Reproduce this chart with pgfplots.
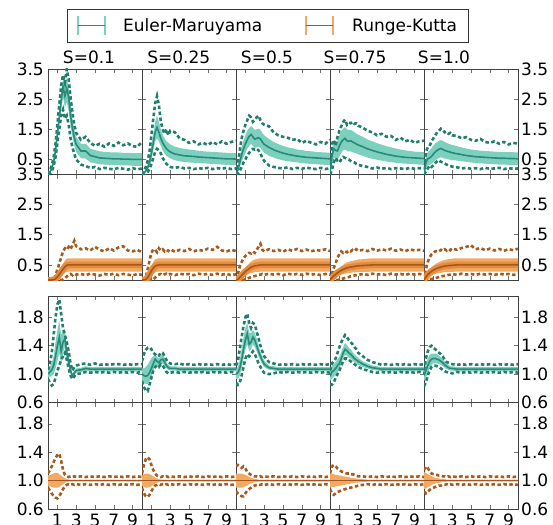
\documentclass[border=0pt]{standalone}
\usepackage{fontspec}
\setmainfont{DejaVu Sans}
\usepackage{pgfplots}
\usepackage{pgfplotstable}
\pgfplotsset{compat=1.18}
\usepgfplotslibrary{fillbetween}

\definecolor{emfill}{RGB}{125,208,190}
\definecolor{emline}{RGB}{40,138,120}
\definecolor{emdot}{RGB}{34,126,108}
\definecolor{rkfill}{RGB}{240,170,100}
\definecolor{rkmid}{RGB}{228,140,62}
\definecolor{rkline}{RGB}{168,86,28}
\definecolor{rkdot}{RGB}{166,90,30}
\newcommand{\lblfont}{\fontsize{17}{20}\selectfont}

% columns: x, mean, band low/high, min, max
\pgfplotstableread{
x m lo hi mn mx
0 0.00 0.00 0.00 0.00 0.00
0.2 0.08 0.06 0.10 0.04 0.14
0.4 0.20 0.16 0.25 0.10 0.30
0.6 0.42 0.35 0.50 0.28 0.58
0.8 0.80 0.68 0.92 0.58 1.02
1.0 1.35 1.18 1.52 1.05 1.65
1.2 1.90 1.68 2.12 1.50 2.30
1.4 2.45 2.15 2.72 1.95 2.95
1.6 2.92 2.55 3.18 2.15 3.30
1.8 2.60 2.22 2.98 1.85 3.05
2.0 2.85 2.40 3.20 1.95 3.50
2.2 2.55 2.10 2.90 1.65 3.15
2.4 1.95 1.60 2.30 1.20 2.55
2.6 1.55 1.25 1.85 0.90 2.05
2.8 1.22 0.95 1.48 0.68 1.65
3.0 1.00 0.75 1.25 0.50 1.38
3.5 0.78 0.54 1.02 0.33 1.15
4.0 0.78 0.53 1.02 0.28 1.25
4.5 0.63 0.41 0.86 0.22 1.05
5.0 0.59 0.37 0.81 0.25 0.95
5.5 0.55 0.34 0.77 0.18 1.02
6.0 0.54 0.33 0.75 0.22 0.92
6.5 0.53 0.32 0.74 0.19 1.03
7.0 0.52 0.31 0.73 0.17 0.95
7.5 0.52 0.31 0.73 0.22 1.06
8.0 0.51 0.30 0.72 0.19 0.97
8.5 0.51 0.30 0.72 0.16 1.03
9.0 0.50 0.29 0.71 0.21 0.94
9.5 0.50 0.29 0.71 0.17 0.92
10 0.50 0.29 0.71 0.20 1.08
}\emlA
\pgfplotstableread{
x m lo hi mn mx
0 0.00 0.00 0.00 0.00 0.00
0.2 0.05 0.03 0.08 0.00 0.10
0.4 0.12 0.08 0.18 0.03 0.25
0.6 0.22 0.15 0.32 0.08 0.45
0.8 0.40 0.28 0.55 0.18 0.75
1.0 0.70 0.50 0.95 0.35 1.30
1.2 1.05 0.80 1.35 0.55 1.85
1.4 1.40 1.10 1.75 0.75 2.35
1.6 1.56 1.20 1.95 0.85 2.60
1.8 1.40 1.10 1.75 0.80 2.30
2.0 1.20 0.95 1.50 0.70 1.75
2.2 1.05 0.80 1.32 0.55 1.50
2.4 0.95 0.70 1.20 0.45 1.35
2.6 0.85 0.62 1.10 0.35 1.50
2.8 0.80 0.58 1.05 0.30 1.30
3.0 0.75 0.54 1.00 0.25 1.45
3.5 0.68 0.47 0.92 0.22 1.40
4.0 0.65 0.44 0.88 0.25 1.20
4.5 0.62 0.41 0.85 0.20 1.15
5.0 0.61 0.40 0.83 0.22 1.05
5.5 0.60 0.39 0.81 0.18 1.10
6.0 0.58 0.38 0.79 0.21 1.00
6.5 0.57 0.37 0.77 0.19 1.05
7.0 0.56 0.36 0.76 0.22 0.98
7.5 0.55 0.35 0.75 0.18 1.08
8.0 0.54 0.34 0.74 0.21 1.00
8.5 0.53 0.33 0.73 0.19 1.10
9.0 0.52 0.32 0.72 0.22 1.02
9.5 0.52 0.32 0.72 0.18 1.08
10 0.51 0.31 0.71 0.20 1.12
}\emlB
\pgfplotstableread{
x m lo hi mn mx
0 0.00 0.00 0.00 0.00 0.00
0.2 0.15 0.08 0.25 0.03 0.35
0.4 0.40 0.25 0.58 0.12 0.80
0.6 0.65 0.42 0.90 0.25 1.20
0.8 0.85 0.58 1.12 0.40 1.45
1.0 1.02 0.72 1.30 0.50 1.65
1.2 1.15 0.85 1.45 0.62 1.80
1.4 1.27 0.95 1.55 0.72 1.95
1.6 1.33 1.02 1.60 0.80 1.90
1.8 1.25 0.95 1.55 0.85 1.75
2.0 1.17 0.88 1.48 0.82 1.80
2.2 1.20 0.90 1.50 0.85 1.90
2.4 1.22 0.92 1.52 0.80 1.95
2.6 1.18 0.88 1.48 0.70 1.80
2.8 1.08 0.80 1.38 0.55 1.70
3.0 1.00 0.72 1.30 0.45 1.65
3.5 0.90 0.62 1.18 0.30 1.60
4.0 0.82 0.56 1.08 0.25 1.40
4.5 0.76 0.51 1.01 0.22 1.30
5.0 0.71 0.47 0.95 0.20 1.25
5.5 0.67 0.44 0.90 0.24 1.22
6.0 0.64 0.42 0.87 0.18 1.15
6.5 0.61 0.40 0.83 0.22 1.18
7.0 0.59 0.38 0.81 0.19 1.05
7.5 0.57 0.36 0.78 0.23 1.12
8.0 0.56 0.35 0.77 0.20 1.05
8.5 0.55 0.34 0.75 0.18 1.00
9.0 0.54 0.33 0.74 0.22 1.08
9.5 0.53 0.32 0.73 0.18 1.02
10 0.52 0.31 0.72 0.21 1.15
}\emlC
\pgfplotstableread{
x m lo hi mn mx
0 0.00 0.00 0.00 0.00 0.00
0.2 0.60 0.35 0.85 0.15 1.00
0.4 0.85 0.55 1.10 0.40 1.15
0.6 0.80 0.52 1.10 0.55 0.95
0.8 0.78 0.50 1.12 0.45 1.25
1.0 0.95 0.60 1.30 0.40 1.45
1.2 1.08 0.72 1.45 0.50 1.60
1.4 1.15 0.80 1.52 0.58 1.75
1.6 1.20 0.83 1.57 0.55 1.82
1.8 1.12 0.78 1.50 0.52 1.65
2.0 1.10 0.76 1.48 0.50 1.72
2.2 1.12 0.77 1.48 0.45 1.70
2.4 1.08 0.74 1.45 0.42 1.75
2.6 1.05 0.72 1.40 0.40 1.68
2.8 1.01 0.70 1.36 0.35 1.70
3.0 0.98 0.67 1.32 0.32 1.62
3.5 0.92 0.62 1.25 0.28 1.55
4.0 0.85 0.56 1.16 0.25 1.45
4.5 0.80 0.52 1.10 0.20 1.40
5.0 0.75 0.49 1.04 0.23 1.30
5.5 0.71 0.46 0.99 0.19 1.35
6.0 0.67 0.43 0.94 0.22 1.25
6.5 0.64 0.41 0.90 0.18 1.28
7.0 0.61 0.39 0.86 0.21 1.15
7.5 0.59 0.37 0.83 0.20 1.22
8.0 0.57 0.36 0.80 0.18 1.10
8.5 0.56 0.35 0.78 0.22 1.15
9.0 0.55 0.34 0.76 0.19 1.05
9.5 0.54 0.33 0.75 0.21 1.10
10 0.53 0.32 0.74 0.20 1.12
}\emlD
\pgfplotstableread{
x m lo hi mn mx
0 0.00 0.00 0.00 0.00 0.00
0.2 0.40 0.20 0.60 0.10 0.75
0.4 0.52 0.30 0.75 0.20 0.90
0.6 0.55 0.33 0.80 0.30 0.95
0.8 0.60 0.36 0.88 0.25 1.10
1.0 0.68 0.42 0.96 0.30 1.20
1.2 0.75 0.48 1.03 0.38 1.30
1.4 0.80 0.52 1.08 0.45 1.40
1.6 0.84 0.55 1.12 0.47 1.45
1.8 0.86 0.57 1.14 0.42 1.52
2.0 0.83 0.55 1.12 0.40 1.48
2.2 0.80 0.53 1.08 0.36 1.40
2.4 0.78 0.52 1.05 0.33 1.42
2.6 0.76 0.50 1.02 0.30 1.35
2.8 0.74 0.49 1.00 0.28 1.38
3.0 0.72 0.48 0.98 0.26 1.30
3.5 0.69 0.46 0.94 0.24 1.28
4.0 0.66 0.44 0.90 0.20 1.20
4.5 0.63 0.42 0.86 0.22 1.24
5.0 0.61 0.40 0.83 0.19 1.15
5.5 0.59 0.38 0.81 0.21 1.12
6.0 0.58 0.37 0.79 0.18 1.18
6.5 0.57 0.36 0.78 0.22 1.08
7.0 0.56 0.35 0.77 0.19 1.05
7.5 0.55 0.34 0.76 0.20 1.10
8.0 0.54 0.33 0.75 0.22 1.02
8.5 0.54 0.33 0.75 0.18 1.08
9.0 0.53 0.32 0.74 0.21 1.00
9.5 0.53 0.32 0.74 0.19 1.05
10 0.52 0.31 0.73 0.20 1.02
}\emlE
\pgfplotstableread{
x m lo hi mn mx
0 0.00 0.00 0.00 0.00 0.00
0.2 0.00 0.00 0.00 0.00 0.00
0.4 0.00 0.00 0.01 0.00 0.01
0.6 0.01 0.00 0.03 0.00 0.05
0.8 0.04 0.00 0.09 0.00 0.15
1.0 0.10 0.02 0.18 0.00 0.35
1.2 0.18 0.07 0.29 0.00 0.55
1.4 0.27 0.12 0.42 0.00 0.75
1.6 0.36 0.18 0.54 0.02 0.95
1.8 0.44 0.24 0.64 0.06 1.05
2.0 0.49 0.27 0.71 0.12 1.00
2.2 0.50 0.28 0.72 0.17 1.10
2.4 0.50 0.28 0.72 0.20 1.02
2.6 0.50 0.28 0.72 0.16 1.15
2.8 0.50 0.28 0.72 0.21 1.30
3.0 0.50 0.28 0.72 0.18 1.12
3.5 0.50 0.28 0.72 0.20 1.02
4.0 0.50 0.28 0.72 0.16 1.05
4.5 0.50 0.28 0.72 0.21 0.98
5.0 0.50 0.28 0.72 0.18 1.10
5.5 0.50 0.28 0.72 0.15 1.00
6.0 0.50 0.28 0.72 0.20 0.95
6.5 0.50 0.28 0.72 0.17 1.05
7.0 0.50 0.28 0.72 0.21 0.98
7.5 0.50 0.28 0.72 0.16 1.08
8.0 0.50 0.28 0.72 0.20 1.12
8.5 0.50 0.28 0.72 0.18 0.98
9.0 0.50 0.28 0.72 0.15 0.95
9.5 0.50 0.28 0.72 0.20 1.00
10 0.50 0.28 0.72 0.17 0.92
}\rklA
\pgfplotstableread{
x m lo hi mn mx
0 0.00 0.00 0.00 0.00 0.00
0.2 0.00 0.00 0.01 0.00 0.02
0.4 0.02 0.00 0.05 0.00 0.10
0.6 0.08 0.02 0.15 0.00 0.35
0.8 0.18 0.07 0.30 0.00 0.65
1.0 0.30 0.14 0.46 0.00 0.90
1.2 0.40 0.20 0.60 0.02 1.02
1.4 0.46 0.25 0.68 0.08 1.00
1.6 0.49 0.27 0.71 0.14 0.92
1.8 0.50 0.28 0.72 0.18 1.05
2.0 0.50 0.28 0.72 0.20 0.98
2.2 0.50 0.28 0.72 0.16 1.02
2.4 0.50 0.28 0.72 0.19 0.95
2.6 0.50 0.28 0.72 0.21 1.00
2.8 0.50 0.28 0.72 0.17 0.96
3.0 0.50 0.28 0.72 0.20 1.02
3.5 0.50 0.28 0.72 0.16 0.94
4.0 0.50 0.28 0.72 0.21 1.00
4.5 0.50 0.28 0.72 0.18 0.96
5.0 0.50 0.28 0.72 0.20 1.03
5.5 0.50 0.28 0.72 0.16 0.95
6.0 0.50 0.28 0.72 0.21 1.00
6.5 0.50 0.28 0.72 0.18 0.97
7.0 0.50 0.28 0.72 0.20 1.04
7.5 0.50 0.28 0.72 0.17 1.00
8.0 0.50 0.28 0.72 0.21 1.10
8.5 0.50 0.28 0.72 0.18 0.98
9.0 0.50 0.28 0.72 0.20 0.95
9.5 0.50 0.28 0.72 0.16 1.00
10 0.50 0.28 0.72 0.19 0.96
}\rklB
\pgfplotstableread{
x m lo hi mn mx
0 0.00 0.00 0.00 0.00 0.00
0.2 0.02 0.01 0.03 0.00 0.20
0.4 0.08 0.04 0.12 0.00 0.45
0.6 0.15 0.08 0.22 0.00 0.60
0.8 0.22 0.12 0.32 0.00 0.72
1.0 0.28 0.16 0.40 0.02 0.80
1.2 0.33 0.18 0.48 0.05 0.85
1.4 0.38 0.21 0.55 0.07 0.90
1.6 0.42 0.23 0.61 0.10 0.88
1.8 0.45 0.25 0.65 0.12 0.95
2.0 0.47 0.26 0.68 0.13 0.90
2.2 0.48 0.27 0.70 0.15 1.00
2.4 0.49 0.27 0.71 0.17 1.10
2.6 0.50 0.28 0.72 0.18 1.20
2.8 0.50 0.28 0.72 0.20 1.00
3.0 0.50 0.28 0.72 0.17 0.95
3.5 0.50 0.28 0.72 0.21 1.02
4.0 0.50 0.28 0.72 0.18 0.96
4.5 0.50 0.28 0.72 0.20 1.00
5.0 0.50 0.28 0.72 0.16 0.94
5.5 0.50 0.28 0.72 0.21 1.02
6.0 0.50 0.28 0.72 0.18 0.97
6.5 0.50 0.28 0.72 0.20 1.03
7.0 0.50 0.28 0.72 0.17 0.96
7.5 0.50 0.28 0.72 0.21 1.01
8.0 0.50 0.28 0.72 0.18 0.95
8.5 0.50 0.28 0.72 0.20 1.00
9.0 0.50 0.28 0.72 0.16 0.97
9.5 0.50 0.28 0.72 0.20 1.02
10 0.50 0.28 0.72 0.18 0.96
}\rklC
\pgfplotstableread{
x m lo hi mn mx
0 0.00 0.00 0.00 0.00 0.00
0.2 0.07 0.04 0.10 0.00 0.20
0.4 0.13 0.07 0.19 0.00 0.40
0.6 0.19 0.11 0.27 0.00 0.55
0.8 0.24 0.13 0.35 0.00 0.75
1.0 0.28 0.16 0.40 0.01 0.85
1.2 0.32 0.18 0.46 0.03 0.95
1.4 0.35 0.20 0.50 0.05 0.90
1.6 0.38 0.21 0.55 0.07 0.95
1.8 0.40 0.22 0.58 0.09 0.92
2.0 0.42 0.23 0.60 0.10 0.98
2.2 0.43 0.24 0.62 0.12 0.95
2.4 0.44 0.25 0.63 0.13 1.00
2.6 0.45 0.25 0.65 0.15 0.96
2.8 0.46 0.26 0.66 0.16 1.02
3.0 0.47 0.26 0.68 0.17 0.97
3.5 0.48 0.27 0.69 0.20 1.00
4.0 0.49 0.27 0.71 0.17 0.96
4.5 0.50 0.28 0.72 0.21 1.03
5.0 0.50 0.28 0.72 0.18 0.97
5.5 0.50 0.28 0.72 0.20 1.02
6.0 0.50 0.28 0.72 0.16 0.98
6.5 0.50 0.28 0.72 0.21 1.04
7.0 0.50 0.28 0.72 0.18 0.97
7.5 0.50 0.28 0.72 0.20 1.01
8.0 0.50 0.28 0.72 0.17 0.96
8.5 0.50 0.28 0.72 0.21 1.02
9.0 0.50 0.28 0.72 0.18 0.98
9.5 0.50 0.28 0.72 0.20 1.00
10 0.50 0.28 0.72 0.17 0.97
}\rklD
\pgfplotstableread{
x m lo hi mn mx
0 0.00 0.00 0.00 0.00 0.00
0.2 0.10 0.06 0.14 0.00 0.35
0.4 0.18 0.10 0.26 0.00 0.60
0.6 0.24 0.13 0.35 0.02 0.75
0.8 0.29 0.16 0.42 0.03 0.85
1.0 0.33 0.18 0.48 0.05 0.90
1.2 0.36 0.20 0.52 0.06 0.95
1.4 0.39 0.22 0.56 0.08 0.97
1.6 0.41 0.23 0.59 0.10 0.95
1.8 0.43 0.24 0.62 0.11 1.00
2.0 0.45 0.25 0.65 0.13 0.97
2.2 0.46 0.26 0.66 0.14 1.02
2.4 0.47 0.26 0.68 0.15 0.98
2.6 0.48 0.27 0.69 0.17 1.03
2.8 0.48 0.27 0.69 0.18 0.99
3.0 0.49 0.27 0.71 0.20 1.05
3.5 0.50 0.28 0.72 0.17 1.00
4.0 0.50 0.28 0.72 0.21 1.06
4.5 0.50 0.28 0.72 0.18 1.10
5.0 0.50 0.28 0.72 0.20 1.15
5.5 0.50 0.28 0.72 0.17 1.02
6.0 0.50 0.28 0.72 0.21 1.06
6.5 0.50 0.28 0.72 0.18 0.99
7.0 0.50 0.28 0.72 0.20 1.04
7.5 0.50 0.28 0.72 0.17 0.98
8.0 0.50 0.28 0.72 0.21 1.03
8.5 0.50 0.28 0.72 0.18 0.97
9.0 0.50 0.28 0.72 0.20 1.02
9.5 0.50 0.28 0.72 0.17 0.99
10 0.50 0.28 0.72 0.19 1.04
}\rklE
\pgfplotstableread{
x m lo hi mn mx
0 1.00 0.95 1.05 0.93 1.06
0.2 1.03 0.96 1.10 0.88 1.15
0.4 1.06 0.97 1.16 0.84 1.30
0.6 1.12 1.00 1.25 0.86 1.55
0.8 1.25 1.08 1.45 0.95 1.80
1.0 1.40 1.18 1.62 1.05 1.98
1.2 1.52 1.30 1.75 1.12 2.05
1.4 1.32 1.15 1.55 1.20 1.85
1.6 1.45 1.30 1.62 1.25 1.65
1.8 1.50 1.38 1.62 1.30 1.55
2.0 1.30 1.20 1.40 1.20 1.45
2.2 1.18 1.10 1.26 1.08 1.32
2.4 1.05 1.00 1.10 0.98 1.15
2.6 0.97 0.95 1.00 0.93 1.05
2.8 1.02 0.99 1.05 0.97 1.10
3.0 1.05 1.02 1.08 1.00 1.12
3.5 1.06 1.03 1.09 1.01 1.14
4.0 1.08 1.05 1.11 1.03 1.15
4.5 1.07 1.04 1.10 1.02 1.13
5.0 1.07 1.04 1.10 1.03 1.15
5.5 1.07 1.04 1.10 1.02 1.13
6.0 1.07 1.04 1.10 1.03 1.14
6.5 1.07 1.04 1.10 1.02 1.13
7.0 1.07 1.04 1.10 1.03 1.14
7.5 1.07 1.04 1.10 1.02 1.14
8.0 1.07 1.04 1.10 1.03 1.13
8.5 1.07 1.04 1.10 1.02 1.14
9.0 1.07 1.04 1.10 1.03 1.13
9.5 1.07 1.04 1.10 1.02 1.14
10 1.07 1.04 1.10 1.03 1.14
}\emsA
\pgfplotstableread{
x m lo hi mn mx
0 1.00 0.92 1.08 0.90 1.18
0.2 0.98 0.88 1.08 0.82 1.28
0.4 0.97 0.86 1.10 0.77 1.34
0.6 0.98 0.86 1.13 0.76 1.37
0.8 1.02 0.90 1.18 0.85 1.38
1.0 1.08 0.96 1.22 0.95 1.35
1.2 1.15 1.05 1.25 1.05 1.30
1.4 1.21 1.12 1.28 1.10 1.28
1.6 1.18 1.12 1.24 1.12 1.25
1.8 1.16 1.10 1.22 1.10 1.26
2.0 1.20 1.14 1.26 1.14 1.30
2.2 1.21 1.15 1.27 1.12 1.30
2.4 1.17 1.12 1.23 1.08 1.25
2.6 1.12 1.08 1.16 1.03 1.20
2.8 1.09 1.06 1.13 1.01 1.16
3.0 1.08 1.05 1.11 1.02 1.15
3.5 1.08 1.05 1.11 1.03 1.14
4.0 1.07 1.04 1.10 1.02 1.15
4.5 1.07 1.04 1.10 1.03 1.13
5.0 1.07 1.04 1.10 1.02 1.14
5.5 1.07 1.04 1.10 1.03 1.13
6.0 1.07 1.04 1.10 1.02 1.14
6.5 1.07 1.04 1.10 1.03 1.13
7.0 1.07 1.04 1.10 1.02 1.14
7.5 1.07 1.04 1.10 1.03 1.13
8.0 1.07 1.04 1.10 1.02 1.14
8.5 1.07 1.04 1.10 1.03 1.13
9.0 1.07 1.04 1.10 1.02 1.14
9.5 1.07 1.04 1.10 1.03 1.13
10 1.07 1.04 1.10 1.02 1.14
}\emsB
\pgfplotstableread{
x m lo hi mn mx
0 1.00 0.93 1.07 0.88 1.12
0.2 1.02 0.94 1.10 0.85 1.18
0.4 1.08 0.98 1.20 0.88 1.35
0.6 1.20 1.08 1.35 0.98 1.52
0.8 1.35 1.22 1.52 1.10 1.68
1.0 1.48 1.35 1.65 1.22 1.80
1.2 1.57 1.42 1.72 1.28 1.85
1.4 1.42 1.32 1.58 1.25 1.72
1.6 1.45 1.35 1.58 1.28 1.65
1.8 1.52 1.42 1.62 1.32 1.72
2.0 1.48 1.38 1.58 1.28 1.70
2.2 1.40 1.32 1.50 1.22 1.60
2.4 1.32 1.25 1.40 1.15 1.50
2.6 1.25 1.19 1.32 1.10 1.40
2.8 1.19 1.14 1.25 1.05 1.32
3.0 1.14 1.10 1.19 1.02 1.25
3.5 1.09 1.06 1.12 1.00 1.17
4.0 1.08 1.05 1.11 1.01 1.15
4.5 1.07 1.04 1.10 1.03 1.13
5.0 1.07 1.04 1.10 1.02 1.14
5.5 1.07 1.04 1.10 1.03 1.13
6.0 1.07 1.04 1.10 1.02 1.14
6.5 1.07 1.04 1.10 1.03 1.13
7.0 1.07 1.04 1.10 1.02 1.14
7.5 1.07 1.04 1.10 1.03 1.13
8.0 1.07 1.04 1.10 1.02 1.14
8.5 1.07 1.04 1.10 1.03 1.13
9.0 1.07 1.04 1.10 1.02 1.14
9.5 1.07 1.04 1.10 1.03 1.13
10 1.07 1.04 1.10 1.02 1.14
}\emsC
\pgfplotstableread{
x m lo hi mn mx
0 0.97 0.90 1.05 0.86 1.05
0.2 1.03 0.94 1.12 0.85 1.15
0.4 1.05 0.96 1.14 0.88 1.18
0.6 1.08 0.99 1.17 0.95 1.22
0.8 1.12 1.03 1.21 1.00 1.30
1.0 1.15 1.07 1.24 1.05 1.38
1.2 1.22 1.14 1.31 1.12 1.45
1.4 1.30 1.22 1.38 1.18 1.50
1.6 1.35 1.27 1.44 1.22 1.55
1.8 1.33 1.26 1.41 1.22 1.52
2.0 1.30 1.23 1.37 1.20 1.48
2.2 1.28 1.22 1.35 1.18 1.45
2.4 1.25 1.19 1.31 1.16 1.42
2.6 1.22 1.17 1.28 1.14 1.38
2.8 1.20 1.15 1.25 1.12 1.35
3.0 1.18 1.13 1.23 1.10 1.30
3.5 1.14 1.10 1.18 1.07 1.25
4.0 1.11 1.08 1.15 1.05 1.20
4.5 1.09 1.06 1.12 1.03 1.17
5.0 1.08 1.05 1.11 1.02 1.15
5.5 1.07 1.04 1.10 1.03 1.13
6.0 1.07 1.04 1.10 1.02 1.14
6.5 1.07 1.04 1.10 1.03 1.13
7.0 1.07 1.04 1.10 1.02 1.14
7.5 1.07 1.04 1.10 1.03 1.13
8.0 1.07 1.04 1.10 1.02 1.14
8.5 1.07 1.04 1.10 1.03 1.13
9.0 1.07 1.04 1.10 1.02 1.14
9.5 1.07 1.04 1.10 1.03 1.13
10 1.07 1.04 1.10 1.02 1.14
}\emsD
\pgfplotstableread{
x m lo hi mn mx
0 0.98 0.90 1.05 0.83 1.05
0.2 1.05 0.95 1.15 0.88 1.22
0.4 1.12 1.02 1.22 0.98 1.32
0.6 1.18 1.09 1.27 1.05 1.38
0.8 1.21 1.13 1.29 1.10 1.40
1.0 1.22 1.15 1.29 1.12 1.37
1.2 1.22 1.15 1.29 1.12 1.35
1.4 1.21 1.15 1.28 1.11 1.32
1.6 1.20 1.14 1.26 1.10 1.30
1.8 1.18 1.13 1.24 1.08 1.28
2.0 1.16 1.11 1.21 1.06 1.25
2.2 1.13 1.09 1.18 1.04 1.20
2.4 1.11 1.07 1.15 1.03 1.17
2.6 1.09 1.06 1.13 1.02 1.16
2.8 1.08 1.05 1.11 1.02 1.15
3.0 1.08 1.05 1.11 1.01 1.14
3.5 1.07 1.04 1.10 1.03 1.13
4.0 1.07 1.04 1.10 1.02 1.14
4.5 1.07 1.04 1.10 1.03 1.13
5.0 1.07 1.04 1.10 1.02 1.14
5.5 1.07 1.04 1.10 1.03 1.13
6.0 1.07 1.04 1.10 1.02 1.14
6.5 1.07 1.04 1.10 1.03 1.13
7.0 1.07 1.04 1.10 1.02 1.14
7.5 1.07 1.04 1.10 1.03 1.13
8.0 1.07 1.04 1.10 1.02 1.14
8.5 1.07 1.04 1.10 1.03 1.13
9.0 1.07 1.04 1.10 1.02 1.14
9.5 1.07 1.04 1.10 1.03 1.13
10 1.07 1.04 1.10 1.02 1.14
}\emsE
\pgfplotstableread{
x m lo hi mn mx
0 1.00 0.92 1.08 0.90 1.10
0.2 1.00 0.92 1.08 0.86 1.15
0.4 1.00 0.91 1.09 0.82 1.20
0.6 1.00 0.90 1.10 0.78 1.26
0.8 1.00 0.90 1.11 0.76 1.32
1.0 1.00 0.90 1.11 0.75 1.36
1.2 1.00 0.91 1.09 0.78 1.38
1.4 1.00 0.93 1.07 0.83 1.28
1.6 1.00 0.95 1.05 0.88 1.15
1.8 1.00 0.97 1.03 0.92 1.08
2.0 1.00 0.98 1.02 0.94 1.06
2.2 1.00 0.985 1.015 0.95 1.05
2.4 1.00 0.985 1.015 0.94 1.06
2.6 1.00 0.985 1.015 0.95 1.05
2.8 1.00 0.985 1.015 0.94 1.06
3.0 1.00 0.985 1.015 0.95 1.05
3.5 1.00 0.985 1.015 0.94 1.06
4.0 1.00 0.985 1.015 0.95 1.05
4.5 1.00 0.985 1.015 0.94 1.06
5.0 1.00 0.985 1.015 0.95 1.05
5.5 1.00 0.985 1.015 0.94 1.06
6.0 1.00 0.985 1.015 0.95 1.05
6.5 1.00 0.985 1.015 0.94 1.06
7.0 1.00 0.985 1.015 0.95 1.05
7.5 1.00 0.985 1.015 0.94 1.06
8.0 1.00 0.985 1.015 0.95 1.05
8.5 1.00 0.985 1.015 0.94 1.06
9.0 1.00 0.985 1.015 0.95 1.05
9.5 1.00 0.985 1.015 0.94 1.06
10 1.00 0.985 1.015 0.95 1.05
}\rksA
\pgfplotstableread{
x m lo hi mn mx
0 1.00 0.93 1.07 0.90 1.10
0.2 1.00 0.91 1.09 0.82 1.22
0.4 1.00 0.90 1.10 0.78 1.30
0.6 1.00 0.90 1.10 0.77 1.33
0.8 1.00 0.91 1.09 0.80 1.30
1.0 1.00 0.92 1.08 0.85 1.22
1.2 1.00 0.94 1.06 0.90 1.15
1.4 1.00 0.96 1.04 0.93 1.10
1.6 1.00 0.97 1.03 0.94 1.07
1.8 1.00 0.98 1.02 0.95 1.06
2.0 1.00 0.985 1.015 0.94 1.05
2.2 1.00 0.985 1.015 0.95 1.06
2.4 1.00 0.985 1.015 0.94 1.05
2.6 1.00 0.985 1.015 0.95 1.06
2.8 1.00 0.985 1.015 0.94 1.05
3.0 1.00 0.985 1.015 0.95 1.06
3.5 1.00 0.985 1.015 0.94 1.05
4.0 1.00 0.985 1.015 0.95 1.06
4.5 1.00 0.985 1.015 0.94 1.05
5.0 1.00 0.985 1.015 0.95 1.06
5.5 1.00 0.985 1.015 0.94 1.05
6.0 1.00 0.985 1.015 0.95 1.06
6.5 1.00 0.985 1.015 0.94 1.05
7.0 1.00 0.985 1.015 0.95 1.06
7.5 1.00 0.985 1.015 0.94 1.05
8.0 1.00 0.985 1.015 0.95 1.06
8.5 1.00 0.985 1.015 0.94 1.05
9.0 1.00 0.985 1.015 0.95 1.06
9.5 1.00 0.985 1.015 0.94 1.05
10 1.00 0.985 1.015 0.95 1.06
}\rksB
\pgfplotstableread{
x m lo hi mn mx
0 1.00 0.90 1.10 0.85 1.20
0.2 1.00 0.90 1.10 0.82 1.22
0.4 1.00 0.90 1.10 0.80 1.20
0.6 1.00 0.90 1.10 0.78 1.18
0.8 1.00 0.91 1.09 0.78 1.20
1.0 1.00 0.92 1.08 0.82 1.17
1.2 1.00 0.93 1.07 0.86 1.12
1.4 1.00 0.95 1.05 0.88 1.10
1.6 1.00 0.96 1.04 0.90 1.08
1.8 1.00 0.97 1.03 0.92 1.07
2.0 1.00 0.975 1.025 0.93 1.06
2.2 1.00 0.98 1.02 0.94 1.06
2.4 1.00 0.985 1.015 0.95 1.05
2.6 1.00 0.985 1.015 0.94 1.06
2.8 1.00 0.985 1.015 0.95 1.05
3.0 1.00 0.985 1.015 0.94 1.06
3.5 1.00 0.985 1.015 0.95 1.05
4.0 1.00 0.985 1.015 0.94 1.06
4.5 1.00 0.985 1.015 0.95 1.05
5.0 1.00 0.985 1.015 0.94 1.06
5.5 1.00 0.985 1.015 0.95 1.05
6.0 1.00 0.985 1.015 0.94 1.06
6.5 1.00 0.985 1.015 0.95 1.05
7.0 1.00 0.985 1.015 0.94 1.06
7.5 1.00 0.985 1.015 0.95 1.05
8.0 1.00 0.985 1.015 0.94 1.06
8.5 1.00 0.985 1.015 0.95 1.05
9.0 1.00 0.985 1.015 0.94 1.06
9.5 1.00 0.985 1.015 0.95 1.05
10 1.00 0.985 1.015 0.94 1.06
}\rksC
\pgfplotstableread{
x m lo hi mn mx
0 1.00 0.90 1.10 0.88 1.10
0.2 1.00 0.91 1.09 0.82 1.20
0.4 1.00 0.91 1.09 0.80 1.22
0.6 1.00 0.92 1.08 0.82 1.20
0.8 1.00 0.92 1.08 0.84 1.17
1.0 1.00 0.93 1.07 0.85 1.15
1.2 1.00 0.93 1.07 0.86 1.13
1.4 1.00 0.94 1.06 0.87 1.12
1.6 1.00 0.94 1.06 0.88 1.11
1.8 1.00 0.95 1.05 0.89 1.10
2.0 1.00 0.95 1.05 0.90 1.10
2.2 1.00 0.96 1.04 0.90 1.09
2.4 1.00 0.96 1.04 0.91 1.09
2.6 1.00 0.97 1.03 0.92 1.08
2.8 1.00 0.97 1.03 0.92 1.07
3.0 1.00 0.975 1.025 0.93 1.06
3.5 1.00 0.98 1.02 0.94 1.06
4.0 1.00 0.985 1.015 0.95 1.05
4.5 1.00 0.985 1.015 0.94 1.06
5.0 1.00 0.985 1.015 0.95 1.05
5.5 1.00 0.985 1.015 0.94 1.06
6.0 1.00 0.985 1.015 0.95 1.05
6.5 1.00 0.985 1.015 0.94 1.06
7.0 1.00 0.985 1.015 0.95 1.05
7.5 1.00 0.985 1.015 0.94 1.06
8.0 1.00 0.985 1.015 0.95 1.05
8.5 1.00 0.985 1.015 0.94 1.06
9.0 1.00 0.985 1.015 0.95 1.05
9.5 1.00 0.985 1.015 0.94 1.06
10 1.00 0.985 1.015 0.95 1.05
}\rksD
\pgfplotstableread{
x m lo hi mn mx
0 1.00 0.88 1.12 0.85 1.15
0.2 1.00 0.89 1.11 0.82 1.20
0.4 1.00 0.91 1.09 0.84 1.18
0.6 1.00 0.92 1.08 0.87 1.13
0.8 1.00 0.94 1.06 0.89 1.10
1.0 1.00 0.95 1.05 0.90 1.09
1.2 1.00 0.96 1.04 0.91 1.08
1.4 1.00 0.965 1.035 0.92 1.08
1.6 1.00 0.97 1.03 0.93 1.07
1.8 1.00 0.975 1.025 0.93 1.07
2.0 1.00 0.98 1.02 0.94 1.06
2.2 1.00 0.98 1.02 0.94 1.06
2.4 1.00 0.985 1.015 0.95 1.05
2.6 1.00 0.985 1.015 0.94 1.06
2.8 1.00 0.985 1.015 0.95 1.05
3.0 1.00 0.985 1.015 0.94 1.06
3.5 1.00 0.985 1.015 0.95 1.05
4.0 1.00 0.985 1.015 0.94 1.06
4.5 1.00 0.985 1.015 0.95 1.05
5.0 1.00 0.985 1.015 0.94 1.06
5.5 1.00 0.985 1.015 0.95 1.05
6.0 1.00 0.985 1.015 0.94 1.06
6.5 1.00 0.985 1.015 0.95 1.05
7.0 1.00 0.985 1.015 0.94 1.06
7.5 1.00 0.985 1.015 0.95 1.05
8.0 1.00 0.985 1.015 0.94 1.06
8.5 1.00 0.985 1.015 0.95 1.05
9.0 1.00 0.985 1.015 0.94 1.06
9.5 1.00 0.985 1.015 0.95 1.05
10 1.00 0.985 1.015 0.94 1.06
}\rksE

\pgfplotsset{
  panel/.style={scale only axis, width=94pt, anchor=north west,
    xmin=0, xmax=10, xtick={1,3,5,7,9}, xticklabels={}, yticklabels={},
    axis line style={black!75, line width=0.8pt},
    major tick length=4pt, tick align=inside,
    tick style={black!55, line width=0.6pt},
    xtick pos=both, ytick pos=both,
    ticklabel style={font=\lblfont, inner sep=0pt},
    clip=true},
  big/.style={ymin=0, ymax=3.5, ytick={0.5,1.5,2.5,3.5}, height=105.5pt},
  small/.style={ymin=0.6, ymax=2.1, ytick={0.6,1.0,1.4,1.8}, height=106.5pt},
  bigL/.style={yticklabels={0.5,1.5,2.5,3.5}, yticklabel style={xshift=-4pt}},
  bigR/.style={yticklabel pos=right, ytick pos=both, yticklabels={0.5,1.5,2.5,3.5}, yticklabel style={xshift=3pt}},
  smallL/.style={yticklabels={0.6,1.0,1.4,1.8}, yticklabel style={xshift=-4pt}},
  smallR/.style={yticklabel pos=right, ytick pos=both, yticklabels={0.6,1.0,1.4,1.8}, yticklabel style={xshift=3pt}},
  bottom/.style={xticklabels={1,3,5,7,9}, xticklabel style={yshift=-4.5pt}},
  dotline/.style={line width=2.6pt, dash pattern=on 3.5pt off 2.5pt},
}

% one panel: band, min and max, mean
\newcommand{\bands}[4]{%
  \addplot[draw=none, name path=lo] table[x=x, y=lo]{#1};
  \addplot[draw=none, name path=hi] table[x=x, y=hi]{#1};
  \addplot[fill=#2, draw=none] fill between[of=lo and hi];
  \addplot[#4, dotline] table[x=x, y=mn]{#1};
  \addplot[#4, dotline] table[x=x, y=mx]{#1};
  \addplot[#3, line width=1.6pt] table[x=x, y=m]{#1};
}
% Runge-Kutta panels of the upper block: darker core round the mean
\newcommand{\bandsrk}[1]{%
  \bands{#1}{rkfill}{rkline}{rkdot}
  \addplot[rkmid, line width=6.5pt, line join=round] table[x=x, y=m]{#1};
  \addplot[rkline, line width=1.6pt] table[x=x, y=m]{#1};
}

\begin{document}
\begin{tikzpicture}

% row 1: Euler-Maruyama
\begin{axis}[panel, big, bigL, at={(48pt,-69pt)}]
\bands{\emlA}{emfill}{emline}{emdot}
\end{axis}
\begin{axis}[panel, big, at={(142pt,-69pt)}]
\bands{\emlB}{emfill}{emline}{emdot}
\end{axis}
\begin{axis}[panel, big, at={(236pt,-69pt)}]
\bands{\emlC}{emfill}{emline}{emdot}
\end{axis}
\begin{axis}[panel, big, at={(330pt,-69pt)}]
\bands{\emlD}{emfill}{emline}{emdot}
\end{axis}
\begin{axis}[panel, big, bigR, at={(424pt,-69pt)}]
\bands{\emlE}{emfill}{emline}{emdot}
\end{axis}

% row 2: Runge-Kutta
\begin{axis}[panel, big, bigL, at={(48pt,-174.5pt)}]
\bandsrk{\rklA}
\end{axis}
\begin{axis}[panel, big, at={(142pt,-174.5pt)}]
\bandsrk{\rklB}
\end{axis}
\begin{axis}[panel, big, at={(236pt,-174.5pt)}]
\bandsrk{\rklC}
\end{axis}
\begin{axis}[panel, big, at={(330pt,-174.5pt)}]
\bandsrk{\rklD}
\end{axis}
\begin{axis}[panel, big, bigR, at={(424pt,-174.5pt)}]
\bandsrk{\rklE}
\end{axis}

% row 3: Euler-Maruyama
\begin{axis}[panel, small, smallL, at={(48pt,-296pt)}]
\bands{\emsA}{emfill}{emline}{emdot}
\end{axis}
\begin{axis}[panel, small, at={(142pt,-296pt)}]
\bands{\emsB}{emfill}{emline}{emdot}
\end{axis}
\begin{axis}[panel, small, at={(236pt,-296pt)}]
\bands{\emsC}{emfill}{emline}{emdot}
\end{axis}
\begin{axis}[panel, small, at={(330pt,-296pt)}]
\bands{\emsD}{emfill}{emline}{emdot}
\end{axis}
\begin{axis}[panel, small, smallR, at={(424pt,-296pt)}]
\bands{\emsE}{emfill}{emline}{emdot}
\end{axis}

% row 4: Runge-Kutta
\begin{axis}[panel, small, smallL, bottom, at={(48pt,-402.5pt)}]
\bands{\rksA}{rkfill}{rkline}{rkdot}
\end{axis}
\begin{axis}[panel, small, bottom, at={(142pt,-402.5pt)}]
\bands{\rksB}{rkfill}{rkline}{rkdot}
\end{axis}
\begin{axis}[panel, small, bottom, at={(236pt,-402.5pt)}]
\bands{\rksC}{rkfill}{rkline}{rkdot}
\end{axis}
\begin{axis}[panel, small, bottom, at={(330pt,-402.5pt)}]
\bands{\rksD}{rkfill}{rkline}{rkdot}
\end{axis}
\begin{axis}[panel, small, smallR, bottom, at={(424pt,-402.5pt)}]
\bands{\rksE}{rkfill}{rkline}{rkdot}
\end{axis}

% column titles
\foreach \xx/\tt in {89/0.1, 178.7/0.25, 267/0.5, 355/0.75, 444/1.0}
  \node[font=\lblfont, inner sep=0pt, anchor=base] at (\xx pt,-64pt) {S=\tt};

% legend
\draw[black!80, line width=0.8pt] (67pt,-9pt) rectangle (468pt,-42pt);
\draw[emfill, line width=1.5pt] (78pt,-16pt) -- (78pt,-35pt) (105pt,-16pt) -- (105pt,-35pt);
\draw[emline, line width=1.5pt] (78pt,-25.5pt) -- (105pt,-25.5pt);
\node[font=\lblfont, inner sep=0pt, anchor=base west] at (123pt,-32pt) {Euler-Maruyama};
\draw[rkfill, line width=1.5pt] (306pt,-16pt) -- (306pt,-35pt) (333pt,-16pt) -- (333pt,-35pt);
\draw[rkline, line width=1.5pt] (306pt,-25.5pt) -- (333pt,-25.5pt);
\node[font=\lblfont, inner sep=0pt, anchor=base west] at (352pt,-32pt) {Runge-Kutta};

\pgfresetboundingbox
\path[use as bounding box] (0,0) rectangle (553pt,-524pt);
\end{tikzpicture}
\end{document}
